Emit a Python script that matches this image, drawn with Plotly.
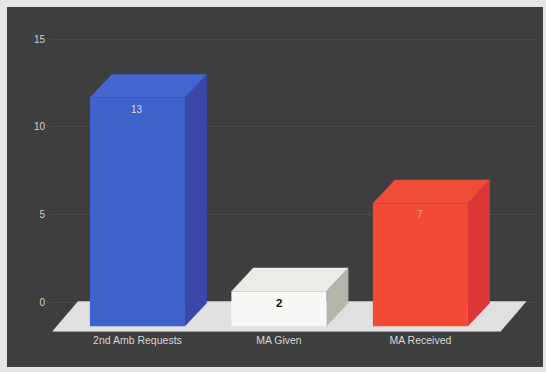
import plotly.graph_objects as go

# Chart data
categories = ["2nd Amb Requests", "MA Given", "MA Received"]
values = [13, 2, 7]
y_ticks = [0, 5, 10, 15]

# Face colours per bar: front, top, side
front_colors = ["#3d62c9", "#f8f8f6", "#f24a34"]
top_colors = ["#4266cf", "#ebebe8", "#f04c3a"]
side_colors = ["#3b46aa", "#b5b4aa", "#dc3636"]
label_colors = ["#d4d8ec", "#111111", "#f59a8a"]

# 3D extrusion geometry (axis units)
BAR_HALF = 0.336
DEPTH_X = 0.155
DEPTH_Y = 1.33

fig = go.Figure()


def poly(xs, ys, color):
    fig.add_trace(go.Scatter(
        x=xs + [xs[0]], y=ys + [ys[0]], mode="lines", fill="toself",
        fillcolor=color, line=dict(width=0, color=color),
        hoverinfo="skip", showlegend=False))


# floor slab
floor_front, floor_back = -1.6, 0.1
fl_l, fl_r = -0.6, 2.57
fl_dx = 0.18
poly([fl_l, fl_r, fl_r, fl_l], [floor_front, floor_front, floor_front - 0.09, floor_front - 0.09], "#9c9c9c")
poly([fl_l, fl_r, fl_r + fl_dx, fl_l + fl_dx],
     [floor_front, floor_front, floor_back, floor_back], "#e0e0e0")

# bars as extruded boxes
for i, v in enumerate(values):
    l, r = i - BAR_HALF, i + BAR_HALF
    bot, top = -DEPTH_Y, v - DEPTH_Y
    # side face
    poly([r, r, r + DEPTH_X, r + DEPTH_X], [bot, top, v, 0], side_colors[i])
    # top face
    poly([l, l + DEPTH_X, r + DEPTH_X, r], [top, v, v, top], top_colors[i])
    # front face
    poly([l, r, r, l], [bot, bot, top, top], front_colors[i])
    fig.add_annotation(
        x=i, y=v - 2.0, text=f"<b>{v}</b>" if i == 1 else str(v),
        showarrow=False, xanchor="center", yanchor="middle",
        font=dict(family="Liberation Sans, Arial, sans-serif",
                  size=11.5 if i == 1 else 10, color=label_colors[i]))

# dark panel behind the chart
fig.add_shape(type="rect", xref="paper", yref="paper",
              x0=-0.0887, x1=1.0165, y0=-0.112, y1=1.0417,
              fillcolor="#3e3e3e", line=dict(width=0), layer="below")

fig.update_layout(
    width=546, height=372,
    margin=dict(l=50, r=11, t=20, b=40),
    paper_bgcolor="#e6e6e4",
    plot_bgcolor="rgba(0,0,0,0)",
    font=dict(family="Liberation Sans, Arial, sans-serif", size=10, color="#d0d0d0"),
    xaxis=dict(range=[-0.618, 2.81], tickvals=list(range(len(categories))),
               ticktext=categories, showgrid=False, zeroline=False,
               showline=False, ticks="", tickfont=dict(size=10.5, color="#d8d8d8"),
               fixedrange=True),
    yaxis=dict(range=[-1.65, 16.08], tickvals=y_ticks, showgrid=True,
               gridcolor="#4b4b4b", gridwidth=1, zeroline=False, showline=False,
               ticks="outside", ticklen=2, tickcolor="rgba(0,0,0,0)",
               tickfont=dict(size=10, color="#cfcfcf"), fixedrange=True),
)

fig.write_html("out.html")
